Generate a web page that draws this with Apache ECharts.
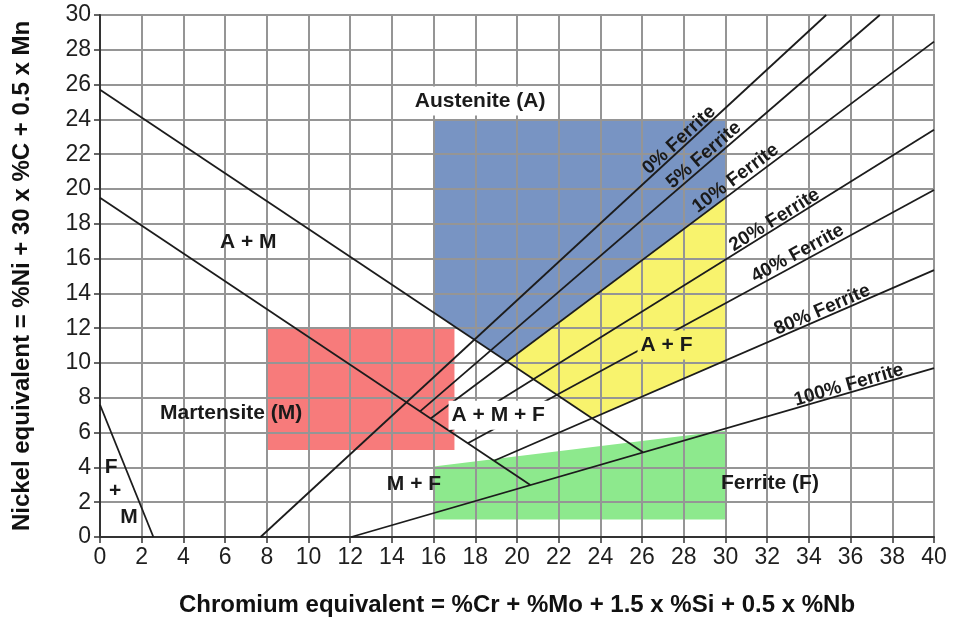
<!DOCTYPE html>
<html>
<head>
<meta charset="utf-8">
<script src="https://cdn.jsdelivr.net/npm/echarts@6/dist/echarts.min.js"></script>
<style>
  html, body { margin: 0; padding: 0; background: #fff; }
  #schaefflerGraph { width: 956px; height: 625px; }
</style>
</head>
<body>
<div id="schaefflerGraph"></div>
<script>
// axis ranges [min, max, step]
const crRange = [0, 40, 2]
const niRange = [0, 30, 2]

// phase boundary lines (Cr eq, Ni eq)
const austeniteEdge = [[0, 25.7], [26.04, 4.87]]
const martensiteEdge = [[0, 19.5], [20.64, 2.99]]
const ferriteMartEdge = [[0, 7.6], [2.56, 0]]

// iso-ferrite lines
const ferriteNames = ['0% Ferrite', '5% Ferrite', '10% Ferrite', '20% Ferrite', '40% Ferrite', '80% Ferrite', '100% Ferrite']
const ferriteFrom = [[7.7, 0], [15.35, 7.22], [15.86, 6.81], [16.78, 6.08], [17.64, 5.39], [18.9, 4.38], [12.05, 0]]
const ferriteTo = [[34.83, 30], [37.4, 30], [40, 28.47], [40, 23.4], [40, 19.94], [40, 15.34], [40, 9.71]]
const ferriteLabelAt = [[27.78, 22.81], [28.96, 21.95], [30.48, 20.61], [32.35, 18.22], [33.46, 16.3], [34.64, 13.05], [35.91, 8.74]]

// shaded areas (polygon corners)
const austeniteArea = [[16, 24], [30, 24], [30, 19.5], [19.51, 10.09], [16, 12.9]]
const duplexArea = [[19.51, 10.09], [30, 19.5], [30, 10.14], [23.6, 6.82]]
const martensiteArea = [[8, 5], [17, 5], [17, 12], [8, 12]]
const ferriteArea = [[16, 1], [30, 1], [30, 6.1], [16, 4.05]]

// region labels
const regionNames = ['Austenite (A)', 'A + M', 'Martensite (M)', 'A + M + F', 'A + F', 'M + F', 'Ferrite (F)', 'F', '+', 'M']
const regionLabelAt = [[18.23, 25.06], [7.11, 16.93], [6.29, 7.11], [19.1, 6.99], [27.17, 11.03], [15.06, 3.04], [32.13, 3.1], [0.53, 3.99], [0.72, 2.61], [1.39, 1.15]]

const FONT = '"Liberation Sans", Arial, Helvetica, sans-serif'

const echartInit = () => {
  let myChart = echarts.init(document.getElementById('schaefflerGraph'))

  const areas = [martensiteArea, austeniteArea, duplexArea, ferriteArea]
  const areaColors = ['#f77b7b', '#7894c3', '#f8f36d', '#8de98d']
  const labelBg = { 'A + M + F': '#fff', 'A + F': '#f8f36d', 'Austenite (A)': '#fff' }

  let lineSeries = [austeniteEdge, martensiteEdge, ferriteMartEdge]
    .concat(ferriteFrom.map((p, i) => [p, ferriteTo[i]]))
    .map((pts) => ({
      type: 'line',
      data: pts,
      symbol: 'none',
      silent: true,
      z: 3,
      lineStyle: { color: '#1c1c1c', width: 1.8 },
    }))

  let option = {
    animation: false,
    grid: { left: 100, right: 22, top: 15, bottom: 88, show: true, borderColor: '#4a4a4a', borderWidth: 1.5 },
    xAxis: {
      type: 'value',
      min: crRange[0],
      max: crRange[1],
      interval: crRange[2],
      z: 2,
      name: 'Chromium equivalent = %Cr + %Mo + 1.5 x %Si + 0.5 x %Nb',
      nameLocation: 'middle',
      nameGap: 56,
      nameTextStyle: { fontFamily: FONT, fontWeight: 'bold', fontSize: 24, color: '#111' },
      axisLine: { onZero: false, lineStyle: { color: '#333', width: 2 } },
      axisTick: { length: 6, lineStyle: { color: '#333', width: 1.5 } },
      axisLabel: { fontFamily: FONT, fontSize: 23, color: '#1e1e1e', margin: 9 },
      splitLine: { lineStyle: { color: '#959595', width: 2 } },
    },
    yAxis: {
      type: 'value',
      min: niRange[0],
      max: niRange[1],
      interval: niRange[2],
      z: 2,
      name: 'Nickel equivalent = %Ni + 30 x %C + 0.5 x Mn',
      nameLocation: 'middle',
      nameGap: 66,
      nameTextStyle: { fontFamily: FONT, fontWeight: 'bold', fontSize: 24, color: '#111' },
      axisLine: { onZero: false, lineStyle: { color: '#333', width: 2 } },
      axisTick: { length: 6, lineStyle: { color: '#333', width: 1.5 } },
      axisLabel: { fontFamily: FONT, fontSize: 23, color: '#1e1e1e', margin: 9 },
      splitLine: { lineStyle: { color: '#959595', width: 2 } },
    },
    series: [
      {
        type: 'custom',
        z: 1,
        silent: true,
        data: areas.map((a) => a[0]),
        renderItem: function (params, api) {
          return {
            type: 'polygon',
            shape: { points: areas[params.dataIndex].map((p) => api.coord(p)) },
            style: { fill: areaColors[params.dataIndex] },
          }
        },
      },
      ...lineSeries,
      {
        // ferrite % labels, rotated along their line
        type: 'custom',
        z: 4,
        silent: true,
        data: ferriteLabelAt,
        renderItem: function (params, api) {
          const i = params.dataIndex
          const a = api.coord(ferriteFrom[i])
          const b = api.coord(ferriteTo[i])
          const pos = api.coord(ferriteLabelAt[i])
          return {
            type: 'text',
            x: pos[0],
            y: pos[1],
            rotation: Math.atan2(a[1] - b[1], b[0] - a[0]),
            style: {
              text: ferriteNames[i],
              fill: '#1a1a1a',
              font: 'bold 19px ' + FONT,
              align: 'center',
              verticalAlign: 'middle',
            },
          }
        },
      },
      {
        type: 'custom',
        z: 4,
        silent: true,
        data: regionLabelAt,
        renderItem: function (params, api) {
          const name = regionNames[params.dataIndex]
          const pos = api.coord(regionLabelAt[params.dataIndex])
          return {
            type: 'text',
            x: pos[0],
            y: pos[1],
            style: {
              text: name,
              fill: '#1a1a1a',
              font: 'bold 21px ' + FONT,
              align: 'center',
              verticalAlign: 'middle',
              backgroundColor: labelBg[name],
              padding: labelBg[name] ? [4, 3] : 0,
            },
          }
        },
      },
    ],
  }

  myChart.setOption(option)
}

echartInit()
</script>
</body>
</html>
